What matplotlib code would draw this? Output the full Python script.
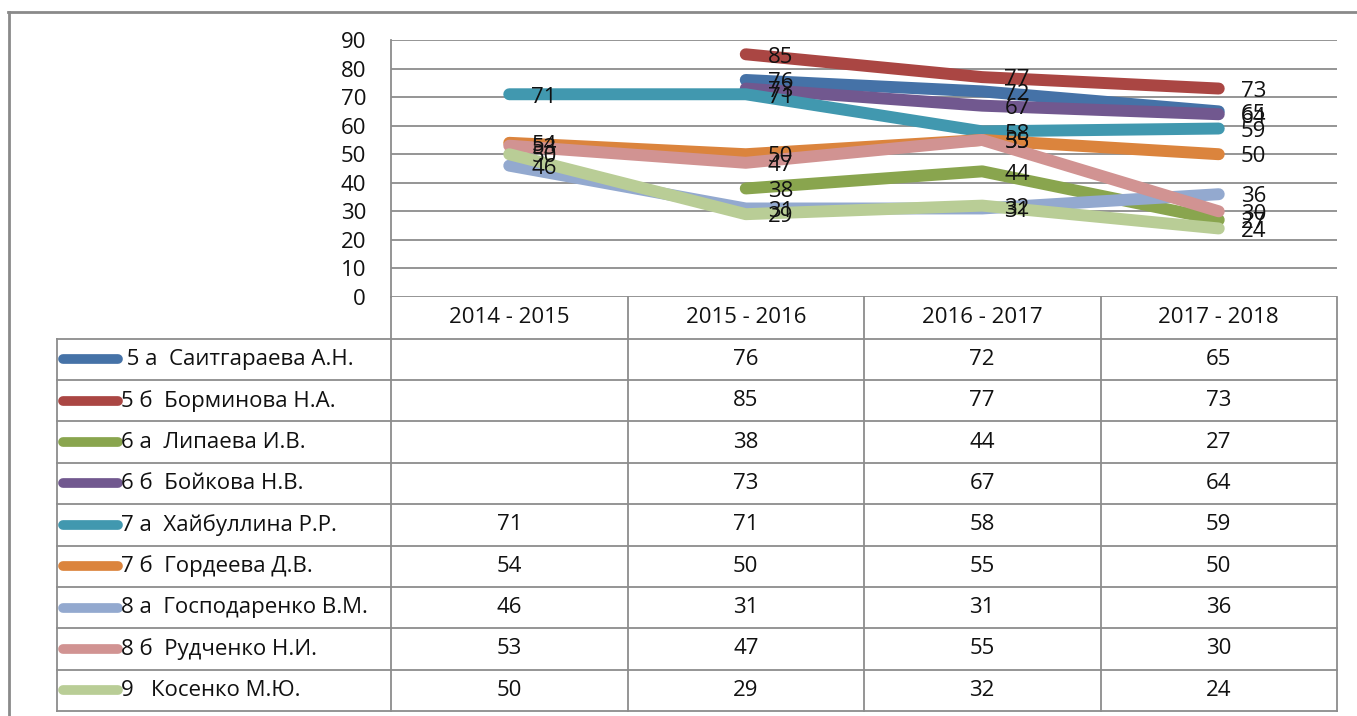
import numpy as np
import matplotlib

matplotlib.use("Agg")
import matplotlib.pyplot as plt

plt.rcParams["font.family"] = ["Open Sans", "DejaVu Sans"]

years = ["2014 - 2015", "2015 - 2016", "2016 - 2017", "2017 - 2018"]
names = [
    " 5 а  Саитгараева А.Н.",
    "5 б  Борминова Н.А.",
    "6 а  Липаева И.В.",
    "6 б  Бойкова Н.В.",
    "7 а  Хайбуллина Р.Р.",
    "7 б  Гордеева Д.В.",
    "8 а  Господаренко В.М.",
    "8 б  Рудченко Н.И.",
    "9   Косенко М.Ю.",
]
nan = np.nan
s5a = [nan, 76, 72, 65]
s5b = [nan, 85, 77, 73]
s6a = [nan, 38, 44, 27]
s6b = [nan, 73, 67, 64]
s7a = [71, 71, 58, 59]
s7b = [54, 50, 55, 50]
s8a = [46, 31, 31, 36]
s8b = [53, 47, 55, 30]
s9 = [50, 29, 32, 24]
series = [s5a, s5b, s6a, s6b, s7a, s7b, s8a, s8b, s9]
colors = ["#4572A7", "#AA4643", "#89A54E", "#71588F", "#4198AF",
          "#DB843D", "#93A9CF", "#D19392", "#B9CD96"]

W, H = 1357, 716
fig = plt.figure(figsize=(W / 100, H / 100), dpi=100)

# pixel layout
px_left, px_right, px_top, px_zero = 391, 1337, 40, 297
row_h = 41.4
head_bot = px_zero + 41.5
tab_left = 57
grid_c = "#8c8c8c"
text_c = "#111111"

# background table / frame layer in pixel coordinates
tab = fig.add_axes([0, 0, 1, 1])
tab.set_xlim(0, W)
tab.set_ylim(H, 0)
tab.axis("off")
tab.plot([8, W], [12, 12], color="#8a8a8a", lw=2)
tab.plot([9, 9], [12, H], color="#8a8a8a", lw=2)

col_w = (px_right - px_left) / len(years)
table_bot = head_bot + row_h * len(names)
for k in range(len(years) + 1):
    x = px_left + k * col_w
    tab.plot([x, x], [px_zero, table_bot], color=grid_c, lw=1.3)
tab.plot([tab_left, tab_left], [head_bot, table_bot], color=grid_c, lw=1.3)
for r in range(len(names) + 1):
    y = head_bot + r * row_h
    tab.plot([tab_left, px_right], [y, y], color=grid_c, lw=1.3)

for k, yr in enumerate(years):
    tab.text(px_left + (k + 0.5) * col_w, (px_zero + head_bot) / 2, yr,
             ha="center", va="center", fontsize=16, color=text_c)

for r, (name, vals, c) in enumerate(zip(names, series, colors)):
    yc = head_bot + (r + 0.5) * row_h
    tab.plot([63, 118], [yc, yc], color=c, lw=7, solid_capstyle="round")
    tab.text(121, yc, name, ha="left", va="center", fontsize=16, color=text_c)
    for k, v in enumerate(vals):
        if not np.isnan(v):
            tab.text(px_left + (k + 0.5) * col_w, yc, f"{v:.0f}",
                     ha="center", va="center", fontsize=16, color=text_c)

# chart area
ax = fig.add_axes([px_left / W, 1 - px_zero / H, (px_right - px_left) / W, (px_zero - px_top) / H])
ax.patch.set_alpha(0)
ax.set_xlim(-0.5, len(years) - 0.5)
ax.set_ylim(0, 90)
ax.set_yticks(range(0, 91, 10))
ax.set_xticks([])
ax.tick_params(axis="y", length=0, pad=18, labelsize=16, labelcolor=text_c)
ax.grid(axis="y", color=grid_c, lw=1.3)
for side in ["top", "right", "bottom"]:
    ax.spines[side].set_visible(False)
ax.spines["left"].set_color(grid_c)
ax.spines["left"].set_linewidth(1.3)

xpos = np.arange(len(years))
for vals, c in zip(series, colors):
    ax.plot(xpos, vals, color=c, lw=8.6, solid_capstyle="round",
            solid_joinstyle="round", clip_on=False)
for vals in series:
    for x, v in zip(xpos, vals):
        if not np.isnan(v):
            ax.annotate(f"{v:.0f}", (x, v), xytext=(16, -2), textcoords="offset points",
                        ha="left", va="center", fontsize=16, color=text_c,
                        annotation_clip=False)

fig.savefig("out.png", dpi=100)
